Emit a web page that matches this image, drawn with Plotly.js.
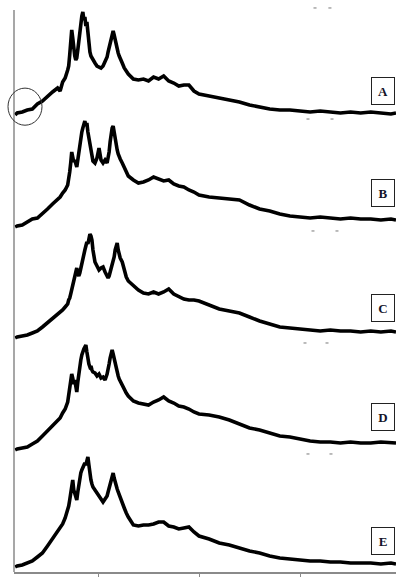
<!DOCTYPE html>
<html>
<head>
<meta charset="utf-8">
<script src="https://cdn.plot.ly/plotly-3.0.1.min.js"></script>
<style>html,body{margin:0;padding:0;background:#fff;}#chart{width:396px;height:580px;}</style>
</head>
<body>
<div id="chart"></div>
<script>
// 2-theta grid (degrees)
const twoTheta = [3.6,4,5,6,7,8,9,10,11,12,
  12.5,13,13.5,
  14.0,14.2,14.4,14.6,14.8,15.0,15.2,15.4,15.6,15.8,16.0,16.2,16.4,16.6,16.8,17.0,17.2,17.4,17.6,17.8,18.0,18.2,18.4,18.6,18.8,19.0,
  19.4,19.8,20.2,20.6,21.0,21.4,21.8,
  22.0,22.2,22.4,22.6,22.8,23.0,23.2,23.4,23.6,23.8,24.0,24.2,24.4,
  24.8,25.2,25.6,
  26,27,28,29,30,31,32,33,34,35,36,37,38,39,40,
  42,44,46,48,50,52,54,56,58,60,62,64,66,68,70,72,74,76,78,
  79];

// intensities (a.u.)
const intensityA = [4,6,7,9,10,15,18,23,27,31,
  28,37,41,
  49,53,64,74,89,81,67,63,59,61,69,79,89,97,103,107,99,102,93,97,85,74,67,63,61,59,
  56,53,52,51,53,57,62,
  67,72,77,82,86,88,84,79,73,69,66,63,61,
  56,51,48,
  45,40,39,40,38,42,40,43,38,36,33,34,34,28,25,
  23,21,19,17,14,12,10,9,9,8,7,8,7,6,7,6,7,6,5,
  6];
const intensityB = [4,5,6,9,12,13,17,22,27,32,
  34,38,41,
  46,51,59,68,79,74,69,71,65,64,71,79,85,93,99,103,107,110,105,108,99,93,83,77,73,70,
  68,73,83,71,68,71,68,
  73,79,89,97,103,105,98,91,85,81,77,74,72,
  68,63,59,
  55,51,48,49,51,54,52,50,51,47,45,44,41,39,36,
  34,33,32,31,26,22,20,17,15,14,13,14,13,12,13,12,12,11,12,
  11];
const intensityC = [4,5,6,7,9,11,15,19,24,28,
  30,32,35,
  38,42,44,48,52,55,60,66,70,74,68,66,69,74,80,86,90,92,96,100,98,104,108,106,102,92,
  80,76,72,74,75,70,66,
  64,66,70,74,77,80,85,92,97,99,92,87,84,
  80,72,65,
  61,56,52,49,48,50,48,50,53,48,45,43,42,42,41,
  37,33,31,29,25,21,18,15,14,13,12,11,12,11,11,10,11,10,11,
  10];
const intensityD = [4,5,6,7,10,13,18,23,28,33,
  36,41,45,
  52,58,66,74,80,76,70,74,66,62,72,82,90,94,99,103,105,107,109,102,94,90,87,88,84,82,
  81,78,80,76,77,74,80,
  84,90,96,101,104,100,95,91,86,81,78,75,73,
  69,64,61,
  58,53,51,50,49,52,54,57,53,51,48,47,45,42,40,
  39,37,34,30,26,24,21,18,17,15,13,12,12,11,12,11,11,12,11,
  11];
const intensityE = [5,6,7,9,11,15,19,26,33,40,
  43,48,54,
  61,66,72,80,88,92,82,78,74,72,80,88,94,99,102,104,106,109,107,112,115,107,96,92,88,85,
  82,79,76,72,70,73,76,
  80,84,89,94,97,99,94,89,86,83,80,77,74,
  70,64,59,
  55,47,46,47,47,48,50,50,46,45,43,44,45,40,36,
  33,29,27,24,21,19,16,14,13,12,11,11,10,10,9,9,9,8,9,
  8];

const sampleLabels = ['A','B','C','D','E'];
const xTickValues = [20,40,60,80];
const xTickLabels = ['20','40','60','80'];

const series = [intensityA, intensityB, intensityC, intensityD, intensityE];
const axisIds = ['y','y2','y3','y4','y5'];

// layout-only: vertical bands for each stacked pattern
const bands = [
  {domain:[0.80605,1.0], range:[0,109]},
  {domain:[0.60676,0.85587], range:[0,140]},
  {domain:[0.40925,0.65836], range:[0,140]},
  {domain:[0.20996,0.45907], range:[0,140]},
  {domain:[0.0,0.24911], range:[0,140]}
];
const labelY = [0.8559,0.6735,0.4689,0.2758,0.0552];

const traces = series.map((vals,i)=>({
  type:'scatter', mode:'lines',
  x: twoTheta, y: vals,
  xaxis:'x', yaxis: axisIds[i],
  line:{color:'#000', width:3.6},
  hoverinfo:'skip', showlegend:false
}));

const layout = {
  width:396, height:580,
  margin:{l:14, r:0, t:10, b:8},
  paper_bgcolor:'#fff', plot_bgcolor:'rgba(0,0,0,0)',
  showlegend:false,
  xaxis:{
    range:[3.37,79.0], anchor:'free', position:0,
    showline:true, linecolor:'#8a8a8a', linewidth:1.5,
    showgrid:false, zeroline:false,
    ticks:'outside', ticklen:3, tickcolor:'#8a8a8a', tickwidth:1,
    tickvals:xTickValues, ticktext:xTickLabels,
    tickfont:{family:'Liberation Serif', size:9, color:'#6a5a7a'}
  },
  annotations: sampleLabels.map((t,i)=>({
    text:'<b>'+t+'</b>', xref:'paper', yref:'paper',
    x:0.9346, y:labelY[i], xanchor:'left', yanchor:'middle',
    showarrow:false, font:{family:'Liberation Serif', size:13, color:'#14142a'},
    bordercolor:'#222', borderwidth:1, borderpad:4, bgcolor:'#fff', width:14, height:18
  })),
  shapes:[
    {type:'line', xref:'paper', yref:'paper', x0:0, x1:0, y0:0, y1:1, line:{color:'#8a8a8a', width:1.5}},
    {type:'circle', xref:'paper', yref:'paper', x0:-0.0157, x1:0.0733, y0:0.795, y1:0.861, line:{color:'#333', width:1}},
    {type:'line', xref:'paper', yref:'paper', x0:0.784, x1:0.792, y0:1.0036, y1:1.0036, line:{color:'#777', width:1}},
    {type:'line', xref:'paper', yref:'paper', x0:0.823, x1:0.831, y0:1.0036, y1:1.0036, line:{color:'#777', width:1}},
    {type:'line', xref:'paper', yref:'paper', x0:0.7657, x1:0.7735, y0:0.8060, y1:0.8060, line:{color:'#777', width:1}},
    {type:'line', xref:'paper', yref:'paper', x0:0.8286, x1:0.8364, y0:0.8060, y1:0.8060, line:{color:'#777', width:1}},
    {type:'line', xref:'paper', yref:'paper', x0:0.7788, x1:0.7866, y0:0.6068, y1:0.6068, line:{color:'#777', width:1}},
    {type:'line', xref:'paper', yref:'paper', x0:0.8416, x1:0.8494, y0:0.6068, y1:0.6068, line:{color:'#777', width:1}},
    {type:'line', xref:'paper', yref:'paper', x0:0.7579, x1:0.7657, y0:0.4075, y1:0.4075, line:{color:'#777', width:1}},
    {type:'line', xref:'paper', yref:'paper', x0:0.8155, x1:0.8233, y0:0.4075, y1:0.4075, line:{color:'#777', width:1}},
    {type:'line', xref:'paper', yref:'paper', x0:0.7657, x1:0.7735, y0:0.2100, y1:0.2100, line:{color:'#777', width:1}},
    {type:'line', xref:'paper', yref:'paper', x0:0.8259, x1:0.8337, y0:0.2100, y1:0.2100, line:{color:'#777', width:1}}
  ]
};
bands.forEach((b,i)=>{
  const key = i===0 ? 'yaxis' : 'yaxis'+(i+1);
  layout[key] = {domain:b.domain, range:b.range, anchor:'x', visible:false,
    showgrid:false, zeroline:false, fixedrange:true};
});

Plotly.newPlot('chart', traces, layout, {displayModeBar:false, staticPlot:true});
</script>
</body>
</html>
